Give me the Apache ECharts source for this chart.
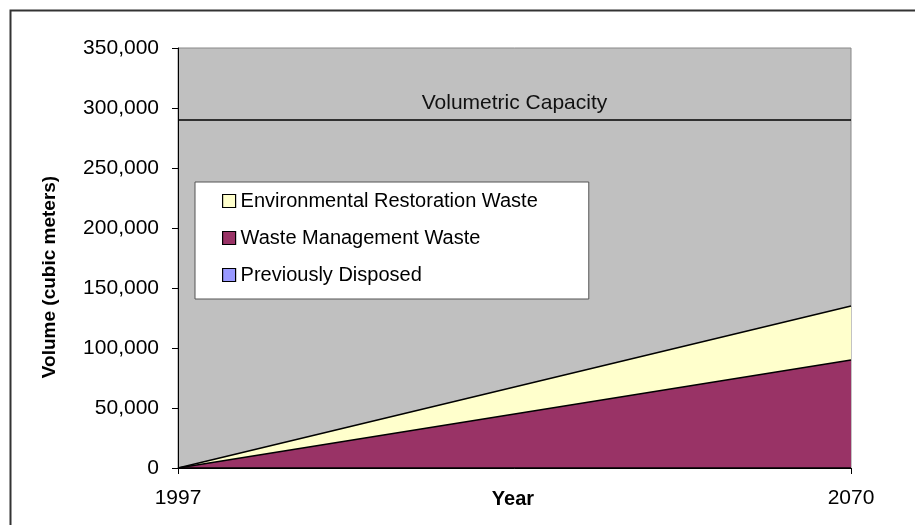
<!DOCTYPE html>
<html>
<head>
<meta charset="utf-8">
<script src="https://cdn.jsdelivr.net/npm/echarts@6/dist/echarts.min.js"></script>
<style>
html,body{margin:0;padding:0;background:#fff;}
#chart{width:915px;height:525px;}
</style>
</head>
<body>
<div id="chart"></div>
<script>
// ---- data ----
const years = ['1997', '2070'];
const previouslyDisposed = [0, 0];
const wasteManagement = [0, 90000];
const environmentalRestoration = [0, 45000];
const volumetricCapacity = 290000;
const yTicks = { min: 0, max: 350000, interval: 50000 };
const legendOrder = ['Environmental Restoration Waste', 'Waste Management Waste', 'Previously Disposed'];

const FONT = 'Arial, "Liberation Sans", sans-serif';
const chart = echarts.init(document.getElementById('chart'), null, { renderer: 'canvas' });

function fmt(v) { return v.toString().replace(/\B(?=(\d{3})+(?!\d))/g, ','); }

const lineBlack = { color: '#000', width: 1.6 };

chart.setOption({
  animation: false,
  backgroundColor: '#fff',
  textStyle: { fontFamily: FONT },
  grid: {
    left: 178, right: 64, top: 48, bottom: 57,
    show: true, backgroundColor: '#c0c0c0', borderColor: '#888', borderWidth: 1
  },
  graphic: [
    { type: 'rect', left: 8, top: 8, shape: { width: 1000, height: 1000 },
      style: { fill: 'none', stroke: '#333', lineWidth: 2 }, silent: true, z: -1 },
    { type: 'text', x: 50, y: 277, rotation: Math.PI / 2,
      style: { text: 'Volume (cubic meters)', font: 'bold 19px ' + FONT, fill: '#000',
               textAlign: 'center', textVerticalAlign: 'middle' } },
    { type: 'text', x: 513, y: 499,
      style: { text: 'Year', font: 'bold 20px ' + FONT, fill: '#000',
               textAlign: 'center', textVerticalAlign: 'middle' } }
  ],
  legend: {
    data: legendOrder,
    orient: 'vertical',
    left: 195, top: 182,
    icon: 'rect',
    itemWidth: 13, itemHeight: 13,
    itemGap: 17,
    padding: [9, 51, 14, 27],
    backgroundColor: '#fff',
    borderColor: '#555', borderWidth: 1,
    itemStyle: { borderColor: '#000', borderWidth: 1.2 },
    textStyle: { fontSize: 20, color: '#000', fontFamily: FONT }
  },
  xAxis: {
    type: 'category',
    data: years,
    boundaryGap: false,
    axisLine: { lineStyle: { color: '#000', width: 1 } },
    axisTick: { show: true, length: 6, lineStyle: { color: '#000' } },
    axisLabel: { fontSize: 21, color: '#000', margin: 20, fontFamily: FONT },
    splitLine: { show: false }
  },
  yAxis: {
    type: 'value',
    min: yTicks.min, max: yTicks.max, interval: yTicks.interval,
    axisLine: { show: true, lineStyle: { color: '#000', width: 1 } },
    axisTick: { show: true, length: 6, lineStyle: { color: '#000' } },
    axisLabel: { fontSize: 21, color: '#000', margin: 19, fontFamily: FONT, formatter: fmt },
    splitLine: { show: false }
  },
  series: [
    {
      name: 'Previously Disposed', type: 'line', stack: 'v', data: previouslyDisposed,
      symbol: 'none', color: '#9999ff',
      lineStyle: lineBlack, areaStyle: { color: '#9999ff', opacity: 1 },
      markLine: {
        silent: true, symbol: ['none', 'none'],
        lineStyle: { color: '#000', width: 1.6, type: 'solid' },
        label: { show: true, position: 'insideMiddleTop', distance: 6,
                 formatter: 'Volumetric Capacity', fontSize: 21, color: '#111', fontFamily: FONT },
        data: [{ yAxis: volumetricCapacity }]
      }
    },
    {
      name: 'Waste Management Waste', type: 'line', stack: 'v', data: wasteManagement,
      symbol: 'none', color: '#993366',
      lineStyle: lineBlack, areaStyle: { color: '#993366', opacity: 1 }
    },
    {
      name: 'Environmental Restoration Waste', type: 'line', stack: 'v', data: environmentalRestoration,
      symbol: 'none', color: '#ffffcc',
      lineStyle: lineBlack, areaStyle: { color: '#ffffcc', opacity: 1 }
    }
  ]
});
</script>
</body>
</html>
